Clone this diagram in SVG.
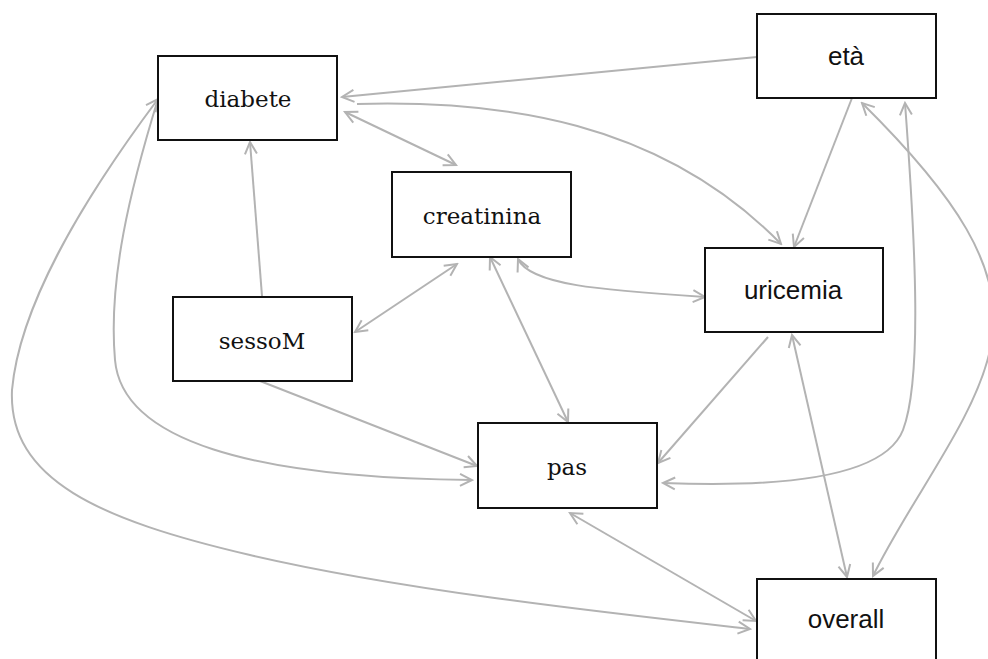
<svg xmlns="http://www.w3.org/2000/svg" width="988" height="659" viewBox="0 0 988 659">
  <style>
    .box { fill: #ffffff; stroke: #111111; stroke-width: 2; }
    .serif { font-family: "DejaVu Serif", "Liberation Serif", serif; font-size: 23px; fill: #111111; text-anchor: middle; }
    .sans { font-family: "Liberation Sans", Arial, sans-serif; font-size: 26px; fill: #111111; text-anchor: middle; }
    .edge { fill: none; stroke: #b3b3b3; stroke-width: 2; }
    .one { marker-end: url(#chev); }
    .two { marker-start: url(#chev); marker-end: url(#chev); }
  </style>
  <defs>
    <marker id="chev" markerUnits="userSpaceOnUse" markerWidth="16" markerHeight="16" viewBox="0 0 16 16" refX="14" refY="8" orient="auto-start-reverse">
      <path d="M2,2 L14,8 L2,14" fill="none" stroke="#b3b3b3" stroke-width="2"/>
    </marker>
  </defs>
  <rect width="988" height="659" fill="#ffffff"/>

  <g id="connectors">
    <!-- età -> diabete -->
    <path class="edge one" d="M757,57 L342,97"/>
    <!-- diabete <-> creatinina -->
    <path class="edge two" d="M345,112 L456,165"/>
    <!-- diabete -> uricemia -->
    <path class="edge one" d="M357,104 C500,100 660,120 781,244"/>
    <!-- sessoM -> diabete -->
    <path class="edge one" d="M262,296 L250,142"/>
    <!-- creatinina <-> sessoM -->
    <path class="edge two" d="M457,264 L355,332"/>
    <!-- creatinina <-> uricemia -->
    <path class="edge two" d="M518,259 C530,285 600,290 705,297"/>
    <!-- creatinina <-> pas -->
    <path class="edge two" d="M490,257 L568,422"/>
    <!-- sessoM -> pas -->
    <path class="edge one" d="M260,381 Q360,420 477,466"/>
    <!-- diabete -> pas -->
    <path class="edge one" d="M158,99 C130,190 108,280 115,360 C122,440 250,478 472,480"/>
    <!-- diabete <-> overall -->
    <path class="edge two" d="M158,99 C90,190 20,300 12,390 C8,480 100,520 250,555 C400,590 600,612 750,629"/>
    <!-- uricemia -> pas -->
    <path class="edge one" d="M768,337 L658,463"/>
    <!-- pas <-> età -->
    <path class="edge two" d="M663,483 C790,488 885,476 903,430 C922,380 916,250 905,103"/>
    <!-- età -> uricemia -->
    <path class="edge one" d="M852,98 L794,247"/>
    <!-- età <-> overall -->
    <path class="edge two" d="M862,103 C950,190 1010,270 990,350 C975,420 910,500 873,576"/>
    <!-- uricemia <-> overall -->
    <path class="edge two" d="M792,335 L847,577"/>
    <!-- pas <-> overall -->
    <path class="edge two" d="M570,513 L756,621"/>
  </g>

  <g id="node-diabete">
    <rect class="box" x="158" y="56" width="179" height="84"/>
    <text class="serif" x="248" y="107">diabete</text>
  </g>
  <g id="node-eta">
    <rect class="box" x="757" y="14" width="179" height="84"/>
    <text class="sans" x="846" y="65">età</text>
  </g>
  <g id="node-creatinina">
    <rect class="box" x="392" y="172" width="179" height="85"/>
    <text class="serif" x="482" y="224">creatinina</text>
  </g>
  <g id="node-uricemia">
    <rect class="box" x="705" y="248" width="178" height="84"/>
    <text class="sans" x="793" y="299">uricemia</text>
  </g>
  <g id="node-sessoM">
    <rect class="box" x="173" y="297" width="179" height="84"/>
    <text class="serif" x="262" y="349">sessoM</text>
  </g>
  <g id="node-pas">
    <rect class="box" x="478" y="423" width="179" height="85"/>
    <text class="serif" x="567" y="475">pas</text>
  </g>
  <g id="node-overall">
    <rect class="box" x="757" y="579" width="179" height="84"/>
    <text class="sans" x="846" y="628">overall</text>
  </g>
</svg>
